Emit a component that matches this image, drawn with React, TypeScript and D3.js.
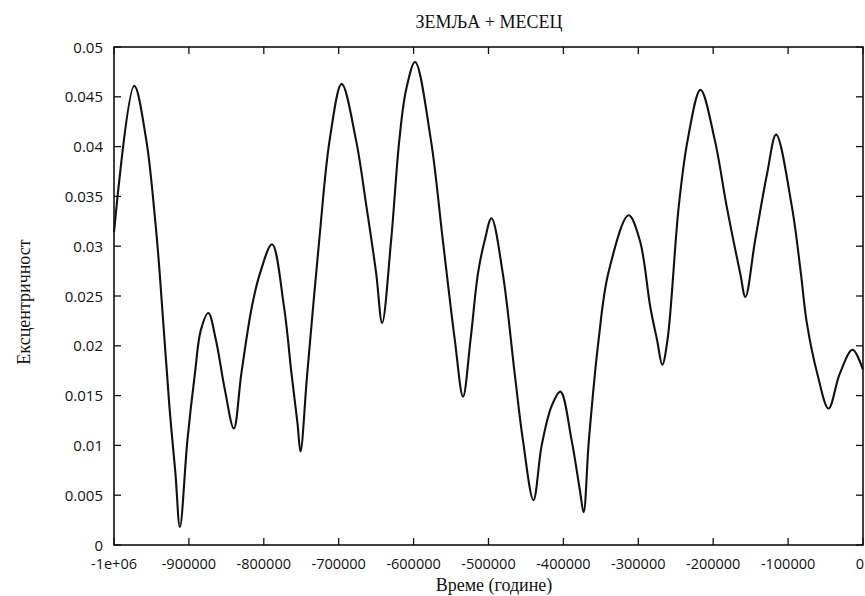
import React from "react";
import * as d3 from "d3";

// Time (years) of each sampled point
const years: number[] = [
  -1000000, -973000, -957000, -945000, -939000, -926000, -918000, -912000,
  -902000, -892000, -884000, -874000, -864000, -852000, -840000,
  -830000, -816000, -805000, -789000, -773000, -763000, -755000, -751000,
  -742000, -726000, -712000, -696000, -677000, -663000, -650000, -642000,
  -630000, -619000, -610000, -598000, -577000, -561000, -545000, -534000,
  -524000, -514000, -505000, -496000, -481000, -465000, -454000, -440000,
  -429000, -416000, -404000, -389000, -378000, -373000,
  -366000, -353000, -340000, -313000, -298000, -284000, -275000, -268000,
  -261000, -246000, -234000, -217000, -198000, -182000, -164000, -157000,
  -144000, -128000, -116000, -95000, -83000, -75000, -61000, -46000,
  -31000, -14000, 0,
];

// Eccentricity at each point
const eccentricity: number[] = [
  0.0314, 0.0461, 0.0407, 0.0326, 0.0273, 0.0139, 0.0072, 0.0018,
  0.0105, 0.0172, 0.0216, 0.0233, 0.0206, 0.0156, 0.0117,
  0.0172, 0.0239, 0.0273, 0.0302, 0.0239, 0.0172, 0.0122, 0.0094,
  0.0172, 0.0306, 0.0407, 0.0463, 0.0407, 0.034, 0.0273, 0.0223,
  0.0306, 0.0407, 0.0457, 0.0485, 0.0407, 0.0306, 0.0206, 0.0149,
  0.0206, 0.0273, 0.0306, 0.0328, 0.0273, 0.0172, 0.0105, 0.0045,
  0.01, 0.0139, 0.0154, 0.0105, 0.0055, 0.0033,
  0.0105, 0.0206, 0.0273, 0.0331, 0.0306, 0.0239, 0.0206, 0.0181,
  0.0206, 0.034, 0.0407, 0.0457, 0.0407, 0.034, 0.0273, 0.0249,
  0.0306, 0.0373, 0.0412, 0.034, 0.0273, 0.0223, 0.0172, 0.0137,
  0.0172, 0.0196, 0.0176,
];

const xTicks: number[] = [-1000000, -900000, -800000, -700000, -600000, -500000, -400000, -300000, -200000, -100000, 0];
const xTickLabels: string[] = ["-1e+06", "-900000", "-800000", "-700000", "-600000", "-500000", "-400000", "-300000", "-200000", "-100000", "0"];
const yTicks: number[] = [0, 0.005, 0.01, 0.015, 0.02, 0.025, 0.03, 0.035, 0.04, 0.045, 0.05];
const yTickLabels: string[] = ["0", "0.005", "0.01", "0.015", "0.02", "0.025", "0.03", "0.035", "0.04", "0.045", "0.05"];

const title = "ЗЕМЉА + МЕСЕЦ";
const xLabel = "Време (године)";
const yLabel = "Ексцентричност";

export default function App() {
  const W = 865, H = 596;
  const left = 114, right = 863, top = 47, bottom = 545;
  const x = d3.scaleLinear().domain([-1000000, 0]).range([left, right]);
  const y = d3.scaleLinear().domain([0, 0.05]).range([bottom, top]);
  const pts = years.map((t, i) => [t, eccentricity[i]] as [number, number]);
  const line = d3
    .line<[number, number]>()
    .x((d) => x(d[0]))
    .y((d) => y(d[1]))
    .curve(d3.curveCatmullRom.alpha(0.5));
  const tl = 7;
  const sans = "'Open Sans', sans-serif";
  const serif = "'Liberation Serif', 'Times New Roman', serif";
  const last = xTicks.length - 1;
  return (
    <svg
      width={W}
      height={H}
      style={{ position: "absolute", left: 0, top: 0, background: "#fff" }}
    >
      <rect x={0} y={0} width={W} height={H} fill="#fff" />
      <text x={489} y={28} textAnchor="middle" fontFamily={serif} fontSize={18} fill="#111">
        {title}
      </text>
      {xTicks.map((t, i) => (
        <g key={"xt" + i}>
          <line x1={x(t)} x2={x(t)} y1={bottom} y2={bottom - tl} stroke="#111" strokeWidth={1.3} />
          <line x1={x(t)} x2={x(t)} y1={top} y2={top + tl} stroke="#111" strokeWidth={1.3} />
          <text
            x={i === last ? W - 1 : x(t)}
            y={568.5}
            textAnchor={i === last ? "end" : "middle"}
            fontFamily={sans}
            fontSize={14.5}
            fill="#111"
          >
            {xTickLabels[i]}
          </text>
        </g>
      ))}
      {yTicks.map((v, i) => (
        <g key={"yt" + i}>
          <line x1={left} x2={left + tl} y1={y(v)} y2={y(v)} stroke="#111" strokeWidth={1.3} />
          <line x1={right} x2={right - tl} y1={y(v)} y2={y(v)} stroke="#111" strokeWidth={1.3} />
          <text x={103} y={y(v) + 5.5} textAnchor="end" fontFamily={sans} fontSize={15} fill="#111">
            {yTickLabels[i]}
          </text>
        </g>
      ))}
      <rect
        x={left}
        y={top}
        width={right - left}
        height={bottom - top}
        fill="none"
        stroke="#111"
        strokeWidth={1.6}
      />
      <path d={line(pts) || ""} fill="none" stroke="#111" strokeWidth={2.1} strokeLinejoin="round" />
      <text x={494} y={591} textAnchor="middle" fontFamily={serif} fontSize={18} fill="#111">
        {xLabel}
      </text>
      <text
        transform={`translate(30,302) rotate(-90)`}
        textAnchor="middle"
        fontFamily={serif}
        fontSize={18}
        fill="#111"
      >
        {yLabel}
      </text>
    </svg>
  );
}
